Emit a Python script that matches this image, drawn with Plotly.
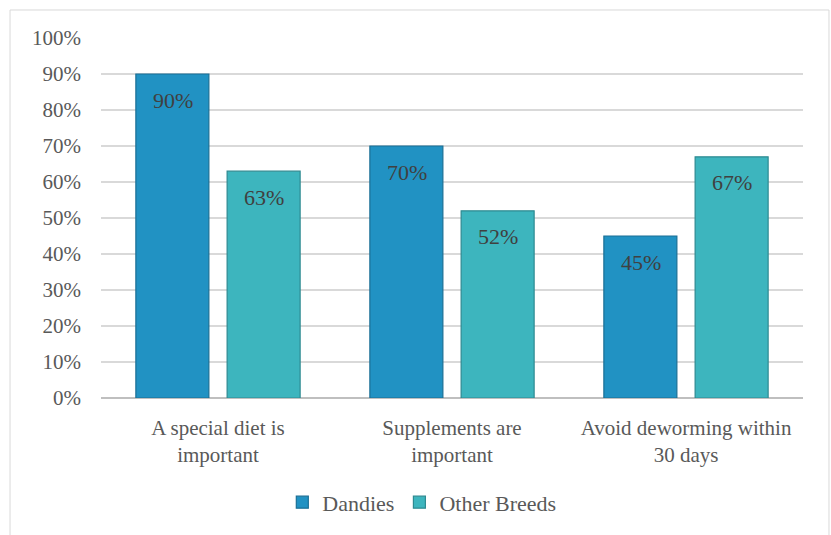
import plotly.graph_objects as go

categories = ["A special diet is<br>important", "Supplements are<br>important", "Avoid deworming within<br>30 days"]
dandies = [90, 70, 45]
other_breeds = [63, 52, 67]
y_ticks = list(range(0, 101, 10))

FONT = "Liberation Serif"
TEXT = "#595959"
C_DANDIES = "#2192c3"
C_OTHER = "#3db5be"

fig = go.Figure()
fig.add_trace(go.Bar(
    name="Dandies", x=categories, y=dandies,
    marker=dict(color=C_DANDIES, line=dict(color="#1a6f95", width=1.2)),
))
fig.add_trace(go.Bar(
    name="Other Breeds", x=categories, y=other_breeds,
    marker=dict(color=C_OTHER, line=dict(color="#2e8a91", width=1.2)),
))

# value labels placed just under each bar's top
annotations = []
for i, cat in enumerate(categories):
    for vals, shift in ((dandies, -45.5), (other_breeds, 45.5)):
        annotations.append(dict(
            x=cat, y=vals[i], xref="x", yref="y",
            text=f"{vals[i]}%", showarrow=False,
            xshift=shift, yshift=-26,
            font=dict(family=FONT, size=22, color="#404040"),
        ))

fig.update_layout(
    width=831, height=535,
    margin=dict(l=101, r=28, t=38, b=137),
    paper_bgcolor="white", plot_bgcolor="white",
    barmode="group", bargap=0.22, bargroupgap=0.2,
    font=dict(family=FONT, size=21, color=TEXT),
    showlegend=True,
    legend=dict(orientation="h", x=0.457, xanchor="center", y=-0.29, yanchor="middle",
                font=dict(family=FONT, size=22, color=TEXT), itemwidth=30,
                traceorder="normal"),
    annotations=annotations,
    shapes=[dict(type="rect", xref="paper", yref="paper",
                 x0=-0.1296, x1=1.037, y0=-0.4, y1=1.0778,
                 line=dict(color="#d9d9d9", width=1), layer="below")],
)
fig.update_xaxes(showgrid=False, ticks="", showline=False, ticklabelstandoff=15,
                 tickfont=dict(family=FONT, size=21, color=TEXT))
fig.update_yaxes(range=[0, 100], tickvals=y_ticks, ticktext=[f"{v}%" for v in y_ticks],
                 showgrid=True, gridcolor="#d9d9d9", gridwidth=1.5,
                 zeroline=True, zerolinecolor="#bfbfbf", zerolinewidth=1.5,
                 ticks="", ticklabelstandoff=19,
                 tickfont=dict(family=FONT, size=21, color=TEXT))

fig.write_html("out.html")
